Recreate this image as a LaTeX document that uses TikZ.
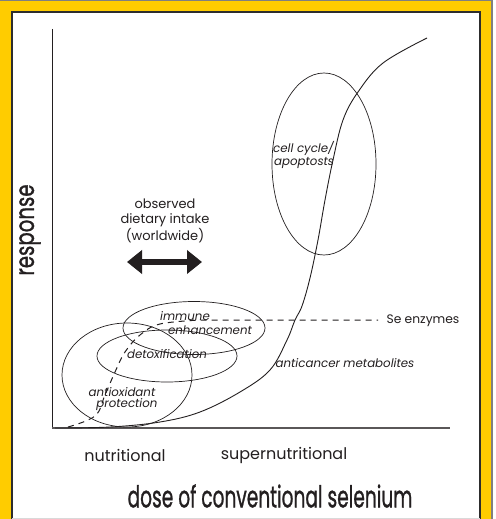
\documentclass[tikz,border=0pt]{standalone}
\usepackage{fontspec}
\setmainfont{Poppins}
\newfontfamily\condfont{Poppins}[FakeBold=1.2]
\definecolor{seyellow}{RGB}{255,204,0}
\definecolor{seframe}{RGB}{45,45,45}
\definecolor{seink}{RGB}{35,31,32}
\usetikzlibrary{arrows.meta,positioning,shapes.geometric}

\begin{document}
\begin{tikzpicture}[x=1pt,y=-1pt,
    every node/.style={text=seink,font=\fontsize{16}{18}\selectfont},
    zone/.style={draw=seink,ellipse,inner sep=0pt,line width=0.7pt},
    lbl/.style={font=\fontsize{11.8}{13}\selectfont\itshape,inner sep=0pt},
    axtitle/.style={font=\fontsize{30}{32}\selectfont\condfont,inner sep=0pt}]
  \useasboundingbox (0,0) rectangle (495,519);

  %% Frame
  \fill[seyellow] (0,0) rectangle (492,519);
  \draw[gray,line width=1.5pt] (0,0.75) -- (492,0.75) -- (492,519);
  \fill[white] (12,12) rectangle (480,518);
  \draw[seframe,line width=2.5pt] (12,519) -- (12,12) -- (480,12) -- (480,519);
  \draw[gray!30,line width=1pt] (12,518.5) -- (480,518.5);

  %% Axes
  \coordinate (top) at (52,29);
  \coordinate (origin) at (52,428);
  \coordinate (xend) at (450,428);
  \draw[seink,line width=1pt] (top) -- (origin);
  \draw[seink!75,line width=1.8pt] (origin) -- (xend);

  %% Zones
  \node[zone,minimum width=130pt,minimum height=104pt] (antiox) at (127,375) {};
  \node[zone,minimum width=140pt,minimum height=52pt] (detox) at (167,356) {};
  \node[zone,minimum width=142pt,minimum height=53pt] (immune) at (194,328) {};
  \node[zone,minimum width=104pt,minimum height=182pt] (cycle) at (324,164) {};

  %% Response curve
  \draw[seink,line width=0.9pt] plot[smooth,tension=0.6] coordinates {
    (55,428) (110,427) (160,422) (200,412) (240,392) (270,370)
    (287,340) (295,320) (302,306) (310,278) (318,240) (325,200)
    (333,160) (343,120) (358,92) (383,63) (427,38)};

  %% Se enzymes (dashed)
  \coordinate (dashend) at (378,320);
  \draw[seink,line width=1pt,dash pattern=on 6pt off 5pt]
    plot[smooth,tension=0.6] coordinates {
    (68,427) (95,416) (105,395) (115,372) (125,352) (140,335)
    (160,324) (200,320)} -- (dashend);
  \node[anchor=west,font=\fontsize{12.3}{14}\selectfont] (enz) at (383,321) {Se enzymes};

  %% Zone labels
  \node[lbl] (immA) at (185,316) {immune};
  \node[lbl] (immB) at (210,330) {enhancement};
  \node[lbl] (detoxlbl) at (167,354) {detoxification};
  \node[lbl] (aoxA) at (122,392) {antioxidant};
  \node[lbl] (aoxB) at (127,405) {protection};
  \node[lbl,anchor=west] (cycA) at (273,148) {cell cycle/};
  \node[lbl,anchor=west] (cycB) at (274,163) {apoptosts};
  \node[lbl] (meta) at (345,363) {anticancer metabolites};

  %% Dietary intake
  \node[align=center,font=\fontsize{13}{15}\selectfont] (intake) at (165,221)
    {observed\\dietary intake\\(worldwide)};
  \coordinate (intakeL) at (127,262);
  \coordinate (intakeR) at (202,262);
  \draw[seink,line width=6pt,
        {Triangle[length=15pt,width=23pt]}-{Triangle[length=15pt,width=23pt]}]
    (intakeL) -- (intakeR);

  %% Axis titles
  \node (nutr) at (125,455) {nutritional};
  \node (supnutr) at (284,455) {supernutritional};
  \node[axtitle] (dose) at (270,496) {\scalebox{0.62}[1]{dose of conventional selenium}};
  \node[axtitle,rotate=90,font=\fontsize{26}{28}\selectfont\condfont] (resp) at (30,230)
    {\scalebox{0.76}[1]{response}};
\end{tikzpicture}
\end{document}
